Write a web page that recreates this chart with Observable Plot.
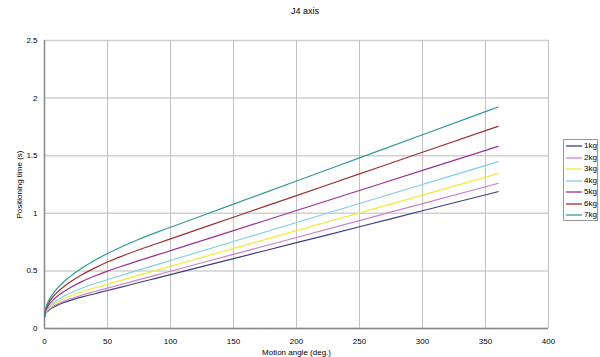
<!DOCTYPE html>
<html>
<head>
<meta charset="utf-8">
<script src="https://cdn.jsdelivr.net/npm/d3@7"></script>
<script src="https://cdn.jsdelivr.net/npm/@observablehq/plot@0.6"></script>
<style>
  html, body { margin: 0; padding: 0; background: #fff; }
  #wrap { position: relative; width: 600px; height: 357px; font-family: "Liberation Sans", Arial, sans-serif; }
  #title { position: absolute; left: 0; width: 610px; top: 6px; text-align: center; font-size: 9px; color: #000; }
  #legend { position: absolute; left: 563px; top: 139px; width: 35px; height: 82px; border: 1px solid #999; box-sizing: border-box; background: #fff; font-size: 8px; color: #000; }
  .item { position: absolute; left: 2px; height: 10px; width: 32px; }
  .item svg { position: absolute; left: 0; top: 0; }
  .item .lb { position: absolute; left: 18px; top: 0; line-height: 10px; }
</style>
</head>
<body>
<div id="wrap">
  <div id="chart"></div>
  <div id="title">J4 axis</div>
  <div id="legend"></div>
</div>
<script>
const titleText = "J4 axis";
const xLabel = "Motion angle (deg.)";
const yLabel = "Positioning time (s)";
const xTicks = [0, 50, 100, 150, 200, 250, 300, 350, 400];
const yTicks = [0, 0.5, 1, 1.5, 2, 2.5];
const series = ["1kg", "2kg", "3kg", "4kg", "5kg", "6kg", "7kg"];
const colors = ["#3b3f82", "#cc80cc", "#f0ec3c", "#80d0e6", "#993399", "#993333", "#339999"];

const angles = [0, 1, 2, 4, 7, 10, 15, 20, 30, 40, 50, 60, 75, 90, 100, 150, 200, 250, 300, 360];
const t1kg = [0.100, 0.132, 0.145, 0.164, 0.184, 0.200, 0.223, 0.242, 0.274, 0.302, 0.330, 0.357, 0.399, 0.440, 0.468, 0.606, 0.745, 0.883, 1.022, 1.188];
const t2kg = [0.100, 0.135, 0.149, 0.170, 0.192, 0.210, 0.235, 0.256, 0.291, 0.321, 0.350, 0.380, 0.424, 0.468, 0.497, 0.644, 0.790, 0.937, 1.084, 1.260];
const t3kg = [0.100, 0.140, 0.157, 0.180, 0.206, 0.227, 0.256, 0.280, 0.320, 0.354, 0.385, 0.416, 0.463, 0.509, 0.540, 0.695, 0.849, 1.004, 1.158, 1.344];
const t4kg = [0.100, 0.146, 0.165, 0.192, 0.222, 0.245, 0.278, 0.306, 0.352, 0.391, 0.425, 0.458, 0.508, 0.557, 0.590, 0.755, 0.920, 1.085, 1.250, 1.448];
const t5kg = [0.100, 0.156, 0.180, 0.213, 0.249, 0.278, 0.318, 0.352, 0.409, 0.456, 0.498, 0.536, 0.589, 0.641, 0.676, 0.850, 1.024, 1.198, 1.372, 1.581];
const t6kg = [0.100, 0.167, 0.195, 0.235, 0.278, 0.313, 0.361, 0.401, 0.469, 0.526, 0.577, 0.622, 0.684, 0.740, 0.778, 0.966, 1.154, 1.342, 1.530, 1.755];
const t7kg = [0.100, 0.178, 0.210, 0.256, 0.306, 0.346, 0.402, 0.448, 0.527, 0.593, 0.651, 0.703, 0.775, 0.839, 0.879, 1.080, 1.280, 1.481, 1.682, 1.923];

const seriesValues = [t1kg, t2kg, t3kg, t4kg, t5kg, t6kg, t7kg];
const data = [];
series.forEach((s, i) => angles.forEach((a, j) => data.push({load: s, angle: a, time: seriesValues[i][j]})));

const chart = Plot.plot({
  width: 600,
  height: 357,
  marginTop: 40,
  marginBottom: 29,
  marginLeft: 44,
  marginRight: 52,
  style: {fontFamily: "'Liberation Sans', Arial, sans-serif", fontSize: "8px", color: "#000", background: "transparent"},
  x: {domain: [0, 400]},
  y: {domain: [0, 2.5]},
  color: {domain: series, range: colors},
  marks: [
    Plot.gridY(yTicks, {stroke: "#d0d0d0", strokeOpacity: 1, strokeWidth: 1.5}),
    Plot.gridX(xTicks, {stroke: "#c0c0c0", strokeOpacity: 1, strokeWidth: 1}),
    Plot.axisX(xTicks, {tickSize: 0, tickPadding: 10, tickFormat: d => String(d), label: xLabel, labelAnchor: "center", labelOffset: 26, labelArrow: "none"}),
    Plot.axisY(yTicks, {tickSize: 0, tickPadding: 7, tickFormat: d => String(d), label: yLabel, labelAnchor: "center", labelOffset: 28, labelArrow: "none"}),
    Plot.ruleX([0], {stroke: "#888", strokeWidth: 1.5}),
    Plot.ruleY([0], {stroke: "#888", strokeWidth: 1.5}),
    Plot.line(data, {x: "angle", y: "time", z: "load", stroke: "load", curve: "monotone-x", strokeWidth: 1.2})
  ]
});
document.getElementById("chart").appendChild(chart);
document.getElementById("title").textContent = titleText;

const legend = document.getElementById("legend");
series.forEach((s, i) => {
  const it = document.createElement("div");
  it.className = "item";
  it.style.top = Math.round(1 + i * 11.5) + "px";
  it.innerHTML = `<svg width="17" height="10"><line x1="0" x2="16" y1="5" y2="5" stroke="${colors[i]}" stroke-width="1.3"/></svg><div class="lb">${s}</div>`;
  legend.appendChild(it);
});
</script>
</body>
</html>
